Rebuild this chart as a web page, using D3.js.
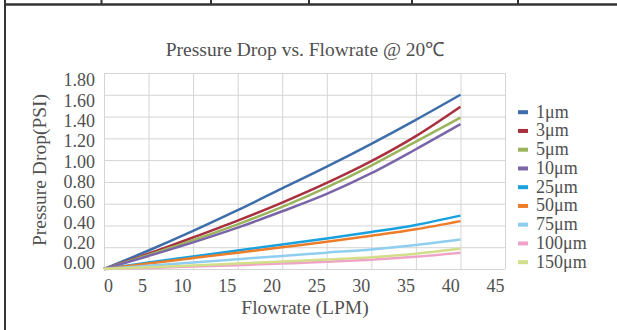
<!DOCTYPE html>
<html>
<head>
<meta charset="utf-8">
<script src="https://cdn.jsdelivr.net/npm/d3@7"></script>
<style>
    body { margin: 0; background: #fff; }
    text { font-family: 'Liberation Serif', serif; fill: #505050; }
</style>
</head>
<body>
<div id="chart"></div>
<script>
// Data
let flowrate    =   [0, 5, 10, 15, 20, 25, 30, 35, 40];
let series_names =  ['1μm', '3μm', '5μm', '10μm', '25μm', '50μm', '75μm', '100μm', '150μm'];
let p_1um       =   [0, 0.17, 0.35, 0.54, 0.74, 0.94, 1.15, 1.37, 1.60];
let p_3um       =   [0, 0.14, 0.29, 0.445, 0.61, 0.79, 0.99, 1.22, 1.49];
let p_5um       =   [0, 0.13, 0.265, 0.41, 0.57, 0.75, 0.95, 1.17, 1.39];
let p_10um      =   [0, 0.12, 0.245, 0.38, 0.53, 0.69, 0.88, 1.10, 1.33];
let p_25um      =   [0, 0.06, 0.115, 0.17, 0.225, 0.28, 0.34, 0.405, 0.49];
let p_50um      =   [0, 0.05, 0.10, 0.15, 0.20, 0.25, 0.305, 0.365, 0.44];
let p_75um      =   [0, 0.03, 0.06, 0.09, 0.12, 0.15, 0.18, 0.22, 0.27];
let p_100um     =   [0, 0.01, 0.022, 0.035, 0.05, 0.066, 0.086, 0.112, 0.15];
let p_150um     =   [0, 0.015, 0.032, 0.05, 0.068, 0.087, 0.108, 0.14, 0.185];
let x_ticks     =   [0, 5, 10, 15, 20, 25, 30, 35, 40, 45];
let y_ticks     =   [0, 0.2, 0.4, 0.6, 0.8, 1.0, 1.2, 1.4, 1.6, 1.8];

let colors = ['#3d6ea9', '#a8303f', '#9bb45c', '#7a65a8', '#19a1de', '#ee7d2a', '#8fceee', '#f0a3c8', '#d2de8a'];
let values = [p_1um, p_3um, p_5um, p_10um, p_25um, p_50um, p_75um, p_100um, p_150um];

let chart_width     =   617;
let chart_height    =   330;
let font            =   "'Liberation Serif', serif";

let svg = d3.select('#chart')
    .append('svg')
    .attr('width', chart_width)
    .attr('height', chart_height);

// Page frame (table borders)
svg.append('line')
    .attr('x1', 4).attr('x2', chart_width)
    .attr('y1', 4.5).attr('y2', 4.5)
    .attr('stroke', '#333').attr('stroke-width', 2.5);
svg.append('line')
    .attr('x1', 5).attr('x2', 5)
    .attr('y1', 0).attr('y2', chart_height)
    .attr('stroke', '#333').attr('stroke-width', 2);
[101.5, 211, 309, 412, 518].forEach(function(x) {
    svg.append('line')
        .attr('x1', x).attr('x2', x)
        .attr('y1', 0).attr('y2', 4)
        .attr('stroke', '#333').attr('stroke-width', 2);
});

// Scales
let xScale = d3.scaleLinear()
    .domain([0, 45])
    .range([104, 505]);

let yScale = d3.scaleLinear()
    .domain([0, 1.8])
    .range([269, 73]);

// label positions in the picture are not aligned with the grid
let xLabelScale = d3.scaleLinear()
    .domain([0, 5, 10, 45])
    .range([108, 142, 182, 495]);

let yLabelScale = d3.scaleLinear()
    .domain([0, 1.8])
    .range([263, 80]);

// Grid
svg.append('g')
    .attr('transform', 'translate(0,269)')
    .call(d3.axisBottom(xScale).tickValues(x_ticks).tickSize(-196).tickFormat(''))
    .call(function(g) {
        g.select('.domain').remove();
        g.selectAll('line').attr('stroke', '#d4d4d4');
    });

svg.append('g')
    .attr('transform', 'translate(104,0)')
    .call(d3.axisLeft(yScale).tickValues(y_ticks).tickSize(-401).tickFormat(''))
    .call(function(g) {
        g.select('.domain').remove();
        g.selectAll('line').attr('stroke', '#d4d4d4');
    });

// Tick labels
svg.append('g')
    .attr('transform', 'translate(0,276)')
    .call(d3.axisBottom(xLabelScale).tickValues(x_ticks).tickSize(0).tickFormat(d3.format('d')))
    .call(function(g) {
        g.select('.domain').remove();
        g.selectAll('text').attr('font-size', 18).attr('font-family', font).attr('fill', '#505050');
    });

svg.append('g')
    .attr('transform', 'translate(95,0)')
    .call(d3.axisLeft(yLabelScale).tickValues(y_ticks).tickSize(0).tickPadding(0).tickFormat(d3.format('.2f')))
    .call(function(g) {
        g.select('.domain').remove();
        g.selectAll('text').attr('font-size', 18).attr('font-family', font).attr('fill', '#505050');
    });

// Lines
let line = d3.line()
    .x(function(d, i) { return xScale(flowrate[i]); })
    .y(function(d) { return yScale(d); })
    .curve(d3.curveMonotoneX);

svg.selectAll('.series')
    .data(values)
    .enter()
    .append('path')
    .attr('class', 'series')
    .attr('d', line)
    .attr('fill', 'none')
    .attr('stroke', function(d, i) { return colors[i]; })
    .attr('stroke-width', 2.5);

// Titles
svg.append('text')
    .text('Pressure Drop vs. Flowrate @ 20℃')
    .attr('x', 305)
    .attr('y', 56)
    .attr('text-anchor', 'middle')
    .attr('font-size', 19.5);

svg.append('text')
    .text('Flowrate (LPM)')
    .attr('x', 305)
    .attr('y', 314)
    .attr('text-anchor', 'middle')
    .attr('font-size', 19.5);

svg.append('text')
    .text('Pressure Drop(PSI)')
    .attr('transform', 'translate(46,170) rotate(-90)')
    .attr('text-anchor', 'middle')
    .attr('font-size', 19.5);

// Legend
let legend = svg.selectAll('.legend')
    .data(series_names)
    .enter()
    .append('g')
    .attr('class', 'legend')
    .attr('transform', function(d, i) {
        return 'translate(518,' + (111.7 + i * 18.75) + ')';
    });

legend.append('rect')
    .attr('x', 0)
    .attr('y', -1.5)
    .attr('width', 10)
    .attr('height', 4)
    .attr('fill', function(d, i) { return colors[i]; });

legend.append('text')
    .text(function(d) { return d; })
    .attr('x', 18)
    .attr('y', 6)
    .attr('font-size', 18);
</script>
</body>
</html>
